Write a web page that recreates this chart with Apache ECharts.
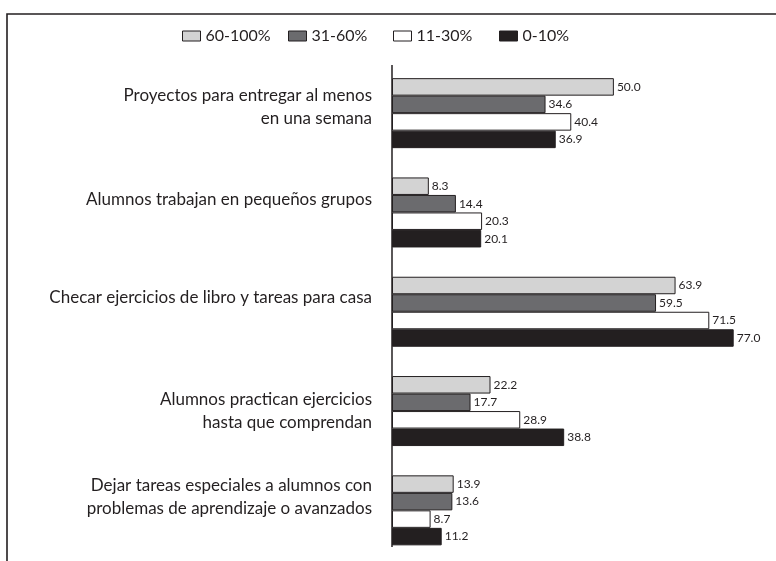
<!DOCTYPE html>
<html><head><meta charset="utf-8">
<script src="https://cdn.jsdelivr.net/npm/echarts@6/dist/echarts.min.js"></script>
<style>html,body{margin:0;padding:0;background:#fff}#c{width:776px;height:561px}</style>
</head><body><div id="c"></div>
<script>
const categories = [
  "Proyectos para entregar al menos\nen una semana",
  "Alumnos trabajan en pequeños grupos",
  "Checar ejercicios de libro y tareas para casa",
  "Alumnos practican ejercicios\nhasta que comprendan",
  "Dejar tareas especiales a alumnos con\nproblemas de aprendizaje o avanzados"
];
const seriesNames = ["60-100%", "31-60%", "11-30%", "0-10%"];
const s60_100 = [50.0, 8.3, 63.9, 22.2, 13.9];
const s31_60 = [34.6, 14.4, 59.5, 17.7, 13.6];
const s11_30 = [40.4, 20.3, 71.5, 28.9, 8.7];
const s0_10 = [36.9, 20.1, 77.0, 38.8, 11.2];
const values = [s60_100, s31_60, s11_30, s0_10];

// styling (kept separate from data)
const colors = ["#d3d3d3", "#6b6b6e", "#ffffff", "#231f20"];
const FONT = "Lato";
const labelLift = [12, 26, 28, 0, 26]; // spacer height under each category label (visual lift = half)
const legendLeft = [177, 283, 388, 494];

const rich = {};
labelLift.forEach((h, i) => { rich['s' + i] = {lineHeight: h, height: h, fontSize: 1}; });

const chart = echarts.init(document.getElementById('c'), null, {renderer: 'canvas'});
chart.setOption({
  backgroundColor: '#fff',
  animation: false,
  textStyle: {fontFamily: FONT, color: '#231f20'},
  legend: seriesNames.map((n, i) => ({
    left: legendLeft[i], top: 23,
    itemWidth: 18, itemHeight: 10,
    textStyle: {fontSize: 16, color: '#231f20', fontFamily: FONT},
    data: [{name: n, icon: 'rect', itemStyle: {color: colors[i], borderColor: '#231f20', borderWidth: 1}}]
  })),
  grid: {left: 392, right: 29, top: 63.5, height: 496.5, containLabel: false},
  xAxis: {type: 'value', min: 0, max: 80, show: false},
  yAxis: {
    type: 'category', inverse: true, data: categories,
    axisLine: {show: false}, axisTick: {show: false},
    axisLabel: {fontSize: 17, color: '#231f20', fontFamily: FONT, margin: 20, lineHeight: 23, align: 'right',
      rich: rich,
      formatter: (v, i) => labelLift[i] ? v + '\n{s' + i + '| }' : v}
  },
  graphic: [
    {type: 'rect', shape: {x: 7, y: 14, width: 820, height: 600}, style: {fill: 'none', stroke: '#231f20', lineWidth: 1.6}, silent: true},
    {type: 'line', shape: {x1: 392, y1: 65, x2: 392, y2: 547}, style: {stroke: '#231f20', lineWidth: 1.5}, silent: true}
  ],
  series: seriesNames.map((n, i) => ({
    name: n, type: 'bar', data: values[i],
    barGap: '0%', barCategoryGap: '29.5%',
    itemStyle: {color: colors[i], borderColor: '#231f20', borderWidth: 1},
    label: {show: true, position: 'right', distance: 3, fontSize: 12, color: '#231f20', fontFamily: FONT,
      formatter: p => p.value.toFixed(1)}
  }))
});
</script></body></html>
